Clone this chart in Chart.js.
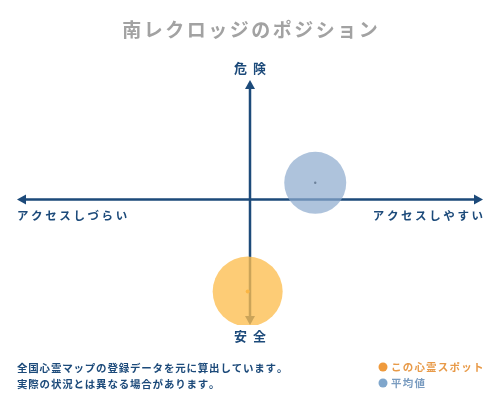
<!DOCTYPE html>
<html>
<head>
<meta charset="utf-8">
<script src="https://cdn.jsdelivr.net/npm/chart.js@4/dist/chart.umd.min.js"></script>
<style>
  html, body { margin: 0; padding: 0; background: #fff; }
  #wrap { width: 500px; height: 400px; }
</style>
</head>
<body>
<div id="wrap"><canvas id="pos" width="500" height="400"></canvas></div>
<script>
// position data (access: -100..100, danger: -100..100)
const seriesNames = ["この心霊スポット", "平均値"];
const accessValues = [-1, 28];
const dangerValues = [-77, 14];
const axisLabels = { top: "危険", bottom: "安全", left: "アクセスしづらい", right: "アクセスしやすい" };
const titleText = "南レクロッジのポジション";
const noteLines = ["全国心霊マップの登録データを元に算出しています。", "実際の状況とは異なる場合があります。"];

const NAVY = "#1c4a7a";
const FONT = "'Noto Sans CJK JP', 'Noto Sans', sans-serif";

function pt(i) { return [{ x: accessValues[i], y: dangerValues[i] }]; }

function spaced(ctx, text, x, y, spacing, align) {
  // draw text with letter spacing, align: left / center / right
  const chars = Array.from(text);
  const widths = chars.map(c => ctx.measureText(c).width);
  const total = widths.reduce((a, b) => a + b, 0) + spacing * (chars.length - 1);
  let cx = align === "center" ? x - total / 2 : align === "right" ? x - total : x;
  ctx.textAlign = "left";
  chars.forEach((c, i) => { ctx.fillText(c, cx, y); cx += widths[i] + spacing; });
}

function head(ctx, x, y, dir) {
  const s = 5, l = 9;
  ctx.beginPath();
  if (dir === "up") { ctx.moveTo(x, y); ctx.lineTo(x - s, y + l); ctx.lineTo(x + s, y + l); }
  if (dir === "down") { ctx.moveTo(x, y); ctx.lineTo(x - s, y - l); ctx.lineTo(x + s, y - l); }
  if (dir === "left") { ctx.moveTo(x, y); ctx.lineTo(x + l, y - s); ctx.lineTo(x + l, y + s); }
  if (dir === "right") { ctx.moveTo(x, y); ctx.lineTo(x - l, y - s); ctx.lineTo(x - l, y + s); }
  ctx.closePath();
  ctx.fill();
}

const crossAxes = {
  id: "crossAxes",
  beforeDatasetsDraw(chart) {
    const { ctx, chartArea: a, scales: { x, y } } = chart;
    const x0 = x.getPixelForValue(0), y0 = y.getPixelForValue(0);
    ctx.save();
    ctx.strokeStyle = NAVY;
    ctx.fillStyle = NAVY;
    ctx.lineWidth = 2.5;
    ctx.beginPath();
    ctx.moveTo(a.left + 4, y0); ctx.lineTo(a.right - 4, y0);
    ctx.moveTo(x0, a.top + 4); ctx.lineTo(x0, a.bottom - 4);
    ctx.stroke();
    head(ctx, a.left, y0, "left");
    head(ctx, a.right, y0, "right");
    head(ctx, x0, a.top, "up");
    head(ctx, x0, a.bottom, "down");
    ctx.restore();
  },
  afterDraw(chart) {
    const { ctx, chartArea: a, scales: { x, y } } = chart;
    const x0 = x.getPixelForValue(0), y0 = y.getPixelForValue(0);
    ctx.save();
    ctx.textBaseline = "middle";

    ctx.fillStyle = "#a2a2a2";
    ctx.font = "bold 19px " + FONT;
    spaced(ctx, titleText, 250, 30, 2.5, "center");

    ctx.fillStyle = NAVY;
    ctx.font = "bold 13px " + FONT;
    spaced(ctx, axisLabels.top, x0, 68, 6, "center");
    spaced(ctx, axisLabels.bottom, x0, 336, 6, "center");
    ctx.font = "bold 11.5px " + FONT;
    spaced(ctx, axisLabels.left, a.left, y0 + 16, 2.6, "left");
    spaced(ctx, axisLabels.right, a.right, y0 + 16, 2.6, "right");

    ctx.font = "bold 10.5px " + FONT;
    spaced(ctx, noteLines[0], 17, 368, 0.8, "left");
    spaced(ctx, noteLines[1], 17, 384, 0.8, "left");

    const legendColors = ["#ef9a3c", "#7fa6cc"];
    const textColors = ["#e89a48", "#7a9cc0"];
    seriesNames.forEach((n, i) => {
      const ly = 367 + i * 16;
      ctx.fillStyle = legendColors[i];
      ctx.beginPath(); ctx.arc(383, ly, 4.5, 0, Math.PI * 2); ctx.fill();
      ctx.fillStyle = textColors[i];
      ctx.font = "bold 10.5px " + FONT;
      spaced(ctx, n, 391, ly, 1.2, "left");
    });
    ctx.restore();
  }
};

new Chart(document.getElementById("pos"), {
  type: "scatter",
  data: {
    datasets: [
      { label: seriesNames[1], data: pt(1), pointRadius: 31, backgroundColor: "rgba(140,170,205,0.7)", borderWidth: 0 },
      { label: seriesNames[0], data: pt(0), pointRadius: 35, backgroundColor: "rgba(252,190,80,0.78)", borderWidth: 0 },
      { data: pt(1), pointRadius: 1.2, backgroundColor: "#222", borderWidth: 0 },
      { data: pt(0), pointRadius: 2, backgroundColor: "#f39a1e", borderWidth: 0 }
    ]
  },
  options: {
    responsive: false,
    animation: false,
    events: [],
    layout: { autoPadding: false, padding: { left: 17, right: 17, top: 80, bottom: 75 } },
    scales: {
      x: { display: false, min: -100, max: 100 },
      y: { display: false, min: -105, max: 100 }
    },
    plugins: { legend: { display: false }, tooltip: { enabled: false }, title: { display: false } }
  },
  plugins: [crossAxes]
});
</script>
</body>
</html>
